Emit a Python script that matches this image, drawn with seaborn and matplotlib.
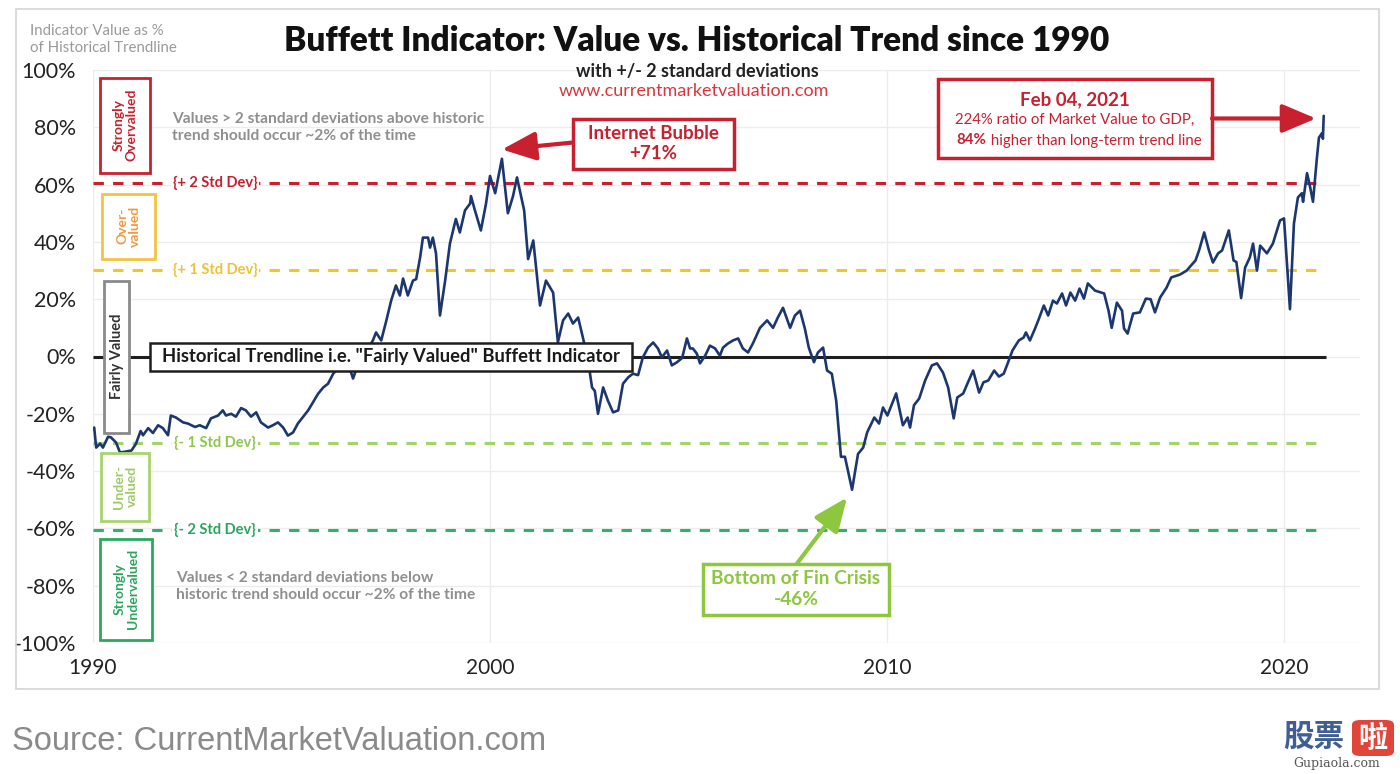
import numpy as np
import pandas as pd
import matplotlib
matplotlib.use("Agg")
import matplotlib.pyplot as plt
from matplotlib.patches import Rectangle, FancyBboxPatch
import seaborn as sns

# ---------------- data ----------------
dates = [
    1990.03, 1990.08, 1990.18, 1990.25, 1990.38, 1990.45, 1990.58, 1990.68, 1990.82, 1990.97,
    1991.08, 1991.20, 1991.26, 1991.39, 1991.51, 1991.64, 1991.76, 1991.89, 1991.96, 1992.09,
    1992.27, 1992.39, 1992.57, 1992.69, 1992.85, 1992.97, 1993.15, 1993.27, 1993.35, 1993.48,
    1993.60, 1993.73, 1993.85, 1993.98, 1994.11, 1994.23, 1994.41, 1994.53, 1994.66, 1994.79,
    1994.91, 1995.04, 1995.16, 1995.42, 1995.67, 1995.80, 1995.92, 1996.05, 1996.17, 1996.30,
    1996.42, 1996.55, 1996.62, 1996.85, 1997.05, 1997.13, 1997.26, 1997.39, 1997.51, 1997.63,
    1997.73, 1997.81, 1997.93, 1998.06, 1998.14, 1998.24, 1998.31, 1998.44, 1998.49, 1998.56,
    1998.64, 1998.74, 1998.87, 1998.99, 1999.07, 1999.14, 1999.24, 1999.37, 1999.50, 1999.52,
    1999.62, 1999.77, 1999.90, 2000.00, 2000.13, 2000.30, 2000.45, 2000.58, 2000.68, 2000.86,
    2000.96, 2001.09, 2001.26, 2001.41, 2001.59, 2001.71, 2001.84, 2001.97, 2002.09, 2002.22,
    2002.34, 2002.47, 2002.57, 2002.64, 2002.72, 2002.85, 2002.97, 2003.10, 2003.23, 2003.35,
    2003.48, 2003.60, 2003.73, 2003.85, 2003.98, 2004.11, 2004.23, 2004.33, 2004.46, 2004.58,
    2004.71, 2004.84, 2004.96, 2005.04, 2005.11, 2005.21, 2005.29, 2005.42, 2005.54, 2005.67,
    2005.79, 2005.87, 2005.99, 2006.12, 2006.25, 2006.37, 2006.50, 2006.62, 2006.80, 2006.98,
    2007.13, 2007.25, 2007.38, 2007.56, 2007.68, 2007.81, 2007.93, 2008.03, 2008.16, 2008.26,
    2008.39, 2008.49, 2008.61, 2008.72, 2008.84, 2008.94, 2009.12, 2009.27, 2009.40, 2009.50,
    2009.68, 2009.80, 2009.90, 2010.01, 2010.23, 2010.40, 2010.52, 2010.58, 2010.68, 2010.81,
    2010.96, 2011.13, 2011.26, 2011.41, 2011.54, 2011.68, 2011.77, 2011.92, 2012.04, 2012.17,
    2012.32, 2012.43, 2012.55, 2012.70, 2012.82, 2012.94, 2013.04, 2013.16, 2013.32, 2013.44,
    2013.50, 2013.60, 2013.73, 2013.83, 2013.95, 2014.06, 2014.18, 2014.28, 2014.41, 2014.51,
    2014.62, 2014.74, 2014.85, 2014.96, 2015.06, 2015.24, 2015.47, 2015.58, 2015.66, 2015.79,
    2015.92, 2015.97, 2016.06, 2016.20, 2016.37, 2016.52, 2016.64, 2016.75, 2016.88, 2017.04,
    2017.16, 2017.38, 2017.55, 2017.66, 2017.77, 2017.86, 2017.99, 2018.11, 2018.21, 2018.34,
    2018.44, 2018.61, 2018.73, 2018.80, 2018.92, 2019.02, 2019.14, 2019.22, 2019.32, 2019.40,
    2019.57, 2019.72, 2019.90, 2020.00, 2020.15, 2020.25, 2020.35, 2020.45, 2020.48, 2020.58,
    2020.66, 2020.73, 2020.83, 2020.88, 2020.96, 2020.98, 2021.00,
]
values = [
    -24.8, -31.8, -30.4, -31.8, -28.0, -28.2, -30.0, -33.5, -33.2, -32.8,
    -30.5, -26.0, -27.5, -25.0, -26.7, -24.0, -25.0, -27.5, -20.6, -21.3,
    -23.0, -23.4, -24.6, -24.0, -25.0, -21.6, -20.6, -18.8, -20.6, -20.0,
    -21.0, -18.0, -18.8, -21.0, -19.5, -23.0, -24.8, -24.0, -23.0, -24.8,
    -27.6, -26.5, -23.4, -18.8, -13.0, -10.8, -9.5, -6.0, -4.2, -3.8,
    -2.0, -7.7, -4.9, 1.0, 5.6, 8.4, 5.6, 12.6, 19.5, 24.8,
    21.3, 27.2, 21.3, 26.5, 27.0, 34.6, 41.5, 41.5, 38.0, 41.5,
    36.0, 14.3, 26.5, 39.4, 44.0, 48.0, 43.3, 51.0, 53.4, 56.0,
    51.0, 44.0, 53.4, 63.0, 57.0, 69.0, 50.0, 56.0, 62.5, 51.0,
    34.0, 40.5, 17.8, 26.5, 22.3, 5.0, 12.6, 15.0, 11.5, 13.6,
    6.6, -1.4, -10.8, -12.0, -20.0, -10.8, -15.4, -19.5, -18.8, -9.5,
    -7.3, -6.0, -6.5, -0.3, 3.1, 4.9, 2.8, -0.3, 2.1, -3.1,
    -2.0, -0.5, 6.3, 2.8, 2.8, 1.0, -2.4, 0.3, 3.8, 2.8,
    0.3, 3.1, 4.5, 5.6, 6.3, 2.8, 1.4, 4.5, 10.0, 12.6,
    10.0, 13.6, 17.0, 10.0, 14.3, 16.0, 9.8, 3.1, -2.0, 1.4,
    3.1, -4.9, -6.0, -15.4, -35.0, -35.0, -46.5, -34.0, -31.8, -26.5,
    -21.3, -23.4, -17.8, -20.6, -12.9, -24.0, -21.3, -24.8, -17.0, -14.7,
    -8.4, -3.1, -2.4, -5.6, -10.8, -21.6, -14.3, -12.9, -9.0, -4.9,
    -12.6, -9.0, -8.4, -4.9, -7.0, -6.0, -2.4, 2.1, 5.6, 6.6,
    8.4, 5.6, 9.8, 13.3, 17.8, 14.3, 19.5, 18.5, 22.0, 17.8,
    22.3, 19.5, 23.7, 20.2, 25.5, 23.0, 22.0, 16.0, 10.0, 18.8,
    16.0, 9.8, 8.0, 15.0, 15.4, 20.2, 20.0, 15.4, 20.6, 24.0,
    27.6, 28.6, 30.0, 31.8, 33.5, 37.0, 43.3, 37.0, 32.8, 36.0,
    37.0, 44.0, 33.5, 33.0, 20.4, 31.0, 34.6, 39.4, 30.0, 38.7,
    36.0, 39.4, 47.5, 48.2, 16.5, 46.4, 55.5, 57.0, 54.0, 64.0,
    59.0, 54.0, 69.5, 76.4, 78.0, 76.0, 84.0,
]

band_levels = [60.5, 30.2, -30.3, -60.6]
band_labels = ["{+ 2 Std Dev}", "{+ 1 Std Dev}", "{- 1 Std Dev}", "{- 2 Std Dev}"]
band_colors = ["#c8202e", "#f3c623", "#a3d46c", "#2fb36a"]
band_text_colors = ["#c8202e", "#f0c233", "#8cc84b", "#2aa55e"]

yticks = [100, 80, 60, 40, 20, 0, -20, -40, -60, -80, -100]
ytick_labels = ["100%", "80%", "60%", "40%", "20%", "0%", "-20%", "-40%", "-60%", "-80%", "-100%"]
xticks = [1990, 2000, 2010, 2020]
xtick_labels = ["1990", "2000", "2010", "2020"]

df = pd.DataFrame({"date": dates, "value": values})

# ---------------- style ----------------
sns.set_theme(style="white")
plt.rcParams["font.family"] = ["Lato", "DejaVu Sans"]

W, H = 1400, 774
fig = plt.figure(figsize=(14, 7.74), dpi=100)
fig.patch.set_facecolor("white")
ax = fig.add_axes([93 / W, 1 - 643 / H, (1360 - 93) / W, (643 - 70) / H])

x_end = 2021.0
ax.set_xlim(1990, 1990 + (1360 - 93) / 39.7)
ax.set_ylim(-100, 100)

for s in ax.spines.values():
    s.set_visible(False)
ax.set_yticks(yticks)
ax.set_yticklabels(ytick_labels)
ax.set_xticks(xticks)
ax.set_xticklabels(xtick_labels)
ax.tick_params(axis="y", length=0, pad=12.5, labelsize=15.5, labelcolor="#222222")
ax.tick_params(axis="x", length=0, pad=11, labelsize=15, labelcolor="#222222")
ax.grid(True, color="#ececec", lw=1.0, zorder=0)
ax.set_axisbelow(True)

# std-dev dashed lines
for lev, lab, c, tc in zip(band_levels, band_labels, band_colors, band_text_colors):
    ax.hlines(lev, 1990, x_end, colors=c, lw=2.2, linestyles=(0, (3.4, 3.0)), zorder=2)
    ax.text(1993.07, lev, lab, color=tc, fontsize=10.5, fontweight="bold", ha="center", va="center",
            zorder=3, bbox=dict(facecolor="white", edgecolor="none", pad=1.5))

# zero trend line
ax.hlines(0, 1990, x_end + 0.05, colors="#1e1e1e", lw=2.2, zorder=2)

# data line
sns.lineplot(data=df, x="date", y="value", ax=ax, color="#1c3770", lw=1.9,
             estimator=None, sort=False, zorder=4)
ax.set_xlabel("")
ax.set_ylabel("")


def px_year(px):
    return 1990 + (px - 93) / 39.7


def px_val(py):
    return (356 - py) / 2.865


def box(x0, x1, y0, y1, ec, lw=2.0, z=5):
    r = Rectangle((px_year(x0), px_val(y1)), px_year(x1) - px_year(x0), px_val(y0) - px_val(y1),
                  facecolor="white", edgecolor=ec, lw=lw, zorder=z)
    ax.add_patch(r)


# side category boxes
box(100, 150, 77, 172, "#c8202e")
ax.text(px_year(125), px_val(124.5), "Strongly\nOvervalued", rotation=90, ha="center", va="center",
        color="#c8202e", fontsize=10, fontweight="bold", zorder=6, linespacing=1.1)
box(102, 155, 193, 258, "#f5c342")
ax.text(px_year(128.5), px_val(225.5), "Over-\nvalued", rotation=90, ha="center", va="center",
        color="#f09a3e", fontsize=10, fontweight="bold", zorder=6, linespacing=1.1)
box(104, 129, 280, 432, "#8a8a8a")
ax.text(px_year(116.5), px_val(356), "Fairly Valued", rotation=90, ha="center", va="center",
        color="#333333", fontsize=10.5, fontweight="bold", zorder=6)
box(101, 149, 452, 520, "#a8d470")
ax.text(px_year(125), px_val(486), "Under-\nvalued", rotation=90, ha="center", va="center",
        color="#9ccc65", fontsize=10, fontweight="bold", zorder=6, linespacing=1.1)
box(100, 152, 538, 639, "#2aa860")
ax.text(px_year(126), px_val(588.5), "Strongly\nUndervalued", rotation=90, ha="center", va="center",
        color="#2aa55e", fontsize=10, fontweight="bold", zorder=6, linespacing=1.1)

# gray notes
ax.text(px_year(172), px_val(127), "Values > 2 standard deviations above historic\ntrend should occur ~2% of the time",
        ha="left", va="center", color="#8f8f8f", fontsize=11.2, fontweight="bold", linespacing=1.3, zorder=6)
ax.text(px_year(176), px_val(586), "Values < 2 standard deviations below\nhistoric trend should occur ~2% of the time",
        ha="left", va="center", color="#8f8f8f", fontsize=11.2, fontweight="bold", linespacing=1.3, zorder=6)

# trendline box
box(150, 632, 342, 370, "#1e1e1e", lw=1.8)
ax.text(px_year(391), px_val(356), 'Historical Trendline i.e. "Fairly Valued" Buffett Indicator',
        ha="center", va="center", color="#1a1a1a", fontsize=13.2, fontweight="bold", zorder=6)

# Internet bubble annotation
box(573, 734, 118, 168, "#c8202e", lw=2.5)
ax.text(px_year(653.5), px_val(143), "Internet Bubble\n+71%", ha="center", va="center",
        color="#c8202e", fontsize=13.5, fontweight="bold", zorder=6, linespacing=1.25)
ax.annotate("", xy=(px_year(502), px_val(149)), xytext=(px_year(573), px_val(142)),
            arrowprops=dict(arrowstyle="-|>,head_length=1.3,head_width=0.55", color="#c8202e",
                            lw=3, shrinkA=0, shrinkB=0, mutation_scale=16), zorder=6)

# Feb 2021 annotation
box(938, 1212, 78, 157, "#c8202e", lw=2.5)
ax.text(px_year(1075), px_val(99), "Feb 04, 2021", ha="center", va="center",
        color="#c8202e", fontsize=13.5, fontweight="bold", zorder=6)
ax.text(px_year(1075), px_val(119), "224% ratio of Market Value to GDP,", ha="center", va="center",
        color="#c8202e", fontsize=10.8, zorder=6)
ax.text(px_year(986), px_val(140), "84%", ha="right", va="center",
        color="#c8202e", fontsize=10.8, fontweight="bold", zorder=6)
ax.text(px_year(987), px_val(140), " higher than long-term trend line", ha="left", va="center",
        color="#c8202e", fontsize=10.8, zorder=6)
ax.annotate("", xy=(px_year(1316), px_val(118)), xytext=(px_year(1212), px_val(118)),
            arrowprops=dict(arrowstyle="-|>,head_length=1.3,head_width=0.55", color="#c8202e",
                            lw=3, shrinkA=0, shrinkB=0, mutation_scale=16), zorder=6)

# Fin crisis annotation
box(703, 889, 563, 614, "#8dc63f", lw=2.5)
ax.text(px_year(796), px_val(588.5), "Bottom of Fin Crisis\n-46%", ha="center", va="center",
        color="#8dc63f", fontsize=13.8, fontweight="bold", zorder=6, linespacing=1.25)
ax.annotate("", xy=(px_year(847), px_val(497)), xytext=(px_year(797), px_val(563)),
            arrowprops=dict(arrowstyle="-|>,head_length=1.3,head_width=0.55", color="#8dc63f",
                            lw=3, shrinkA=0, shrinkB=0, mutation_scale=16), zorder=6)

# ---------------- figure-level text ----------------
fig.text(697 / W, 1 - 41 / H, "Buffett Indicator: Value vs. Historical Trend since 1990",
         ha="center", va="center", fontsize=24, fontweight="heavy", color="#111111")
fig.text(697 / W, 1 - 72 / H, "with +/- 2 standard deviations", ha="center", va="center",
         fontsize=13, fontweight="bold", color="#222222")
fig.text(694 / W, 1 - 91 / H, "www.currentmarketvaluation.com", ha="center", va="center",
         fontsize=13, color="#d9363e")
fig.text(30 / W, 1 - 39.5 / H, "Indicator Value as %\nof Historical Trendline", ha="left", va="center",
         fontsize=10.8, color="#9a9a9a", linespacing=1.3)

# outer frame
fig.patches.append(Rectangle((16 / W, 1 - 689 / H), (1379 - 16) / W, (689 - 9) / H,
                             transform=fig.transFigure, fill=False, edgecolor="#d4d4d4", lw=1.2))

# source
fig.text(12 / W, 1 - 742 / H, "Source: CurrentMarketValuation.com", ha="left", va="center",
         fontsize=23.5, color="#8a8a8a", family=["Liberation Sans", "DejaVu Sans"])

# watermark logo
fig.text(1314 / W, 1 - 737 / H, "股票", ha="center", va="center", fontsize=22, fontweight="bold",
         color="#3f5f93", family=["Noto Sans CJK SC", "DejaVu Sans"])
fig.patches.append(FancyBboxPatch((1352 / W, 1 - 756 / H), 42 / W, 36 / H,
                                  boxstyle="round,pad=0,rounding_size=0.006",
                                  transform=fig.transFigure, facecolor="#e0453a", edgecolor="none"))
fig.text(1373 / W, 1 - 738 / H, "啦", ha="center", va="center", fontsize=21, fontweight="bold",
         color="white", family=["Noto Sans CJK SC", "DejaVu Sans"])
fig.text(1337 / W, 1 - 764 / H, "Gupiaola.com", ha="center", va="center", fontsize=9,
         color="#555555", family=["DejaVu Serif"])

fig.savefig("out.png", dpi=100, facecolor="white")
